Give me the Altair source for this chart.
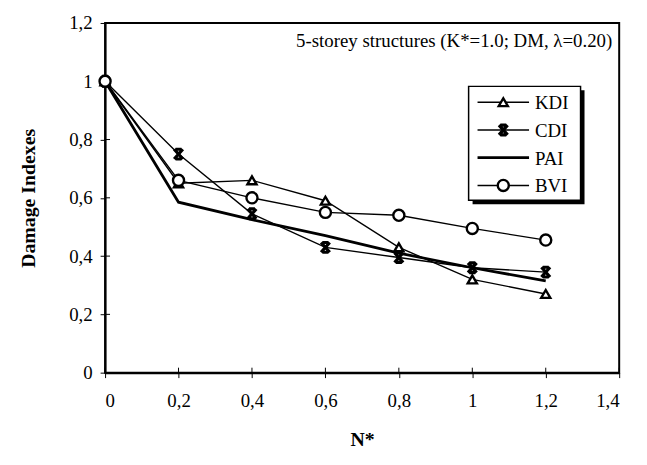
import altair as alt
import pandas as pd

n_star = [0, 0.2, 0.4, 0.6, 0.8, 1.0, 1.2]
kdi = [1.0, 0.65, 0.66, 0.59, 0.43, 0.32, 0.27]
cdi = [1.0, 0.75, 0.545, 0.43, 0.395, 0.36, 0.345]
pai = [1.0, 0.585, 0.525, 0.47, 0.41, 0.36, 0.315]
bvi = [1.0, 0.66, 0.60, 0.55, 0.54, 0.495, 0.455]

series_names = ["KDI", "CDI", "PAI", "BVI"]
series_values = [kdi, cdi, pai, bvi]

x_ticks = [0, 0.2, 0.4, 0.6, 0.8, 1.0, 1.2, 1.4]
y_ticks = [0, 0.2, 0.4, 0.6, 0.8, 1.0, 1.2]
title_text = "5-storey structures (K*=1.0; DM, λ=0.20)"

rows = []
for name, vals in zip(series_names, series_values):
    for xv, yv in zip(n_star, vals):
        rows.append({"series": name, "N": xv, "D": yv})
df = pd.DataFrame(rows)

FONT = "Liberation Serif"
W, H = 519, 353

cross_path = "M-0.8,-0.9L0.8,0.9M0.8,-0.9L-0.8,0.9M-0.55,-0.9L0.55,-0.9M-0.55,0.9L0.55,0.9"
lab_expr = "replace(format(datum.value, '.1~f'), '.', ',')"

x_enc = alt.X("N:Q", scale=alt.Scale(domain=[0, 1.4], nice=False),
              axis=alt.Axis(values=x_ticks, title="N*", labelExpr=lab_expr))
y_enc = alt.Y("D:Q", scale=alt.Scale(domain=[0, 1.2], nice=False),
              axis=alt.Axis(values=y_ticks, title="Damage Indexes", labelExpr=lab_expr))

layers = []
for name in series_names:
    sub = df[df.series == name]
    sw = 2.8 if name == "PAI" else 1.4
    layers.append(alt.Chart(sub).mark_line(color="black", strokeWidth=sw).encode(x=x_enc, y=y_enc))

# inward tick marks (ticks cross the axis lines)
layers.append(alt.Chart(pd.DataFrame({"N": x_ticks})).mark_rule(color="black", strokeWidth=1).encode(
    x="N:Q", y=alt.value(H - 5), y2=alt.value(H)))
layers.append(alt.Chart(pd.DataFrame({"D": y_ticks})).mark_rule(color="black", strokeWidth=1).encode(
    y="D:Q", x=alt.value(0), x2=alt.value(5)))

layers.append(alt.Chart(df[df.series == "KDI"]).mark_point(
    shape="triangle-up", filled=True, fill="white", stroke="black", strokeWidth=2.4, size=85, opacity=1
).encode(x="N:Q", y="D:Q"))
layers.append(alt.Chart(df[df.series == "CDI"]).mark_point(
    shape=cross_path, filled=False, stroke="black", strokeWidth=3.2, size=120, opacity=1
).encode(x="N:Q", y="D:Q"))
layers.append(alt.Chart(df[df.series == "BVI"]).mark_point(
    shape="circle", filled=True, fill="white", stroke="black", strokeWidth=2.4, size=125, opacity=1
).encode(x="N:Q", y="D:Q"))

# title inside plot
layers.append(alt.Chart(pd.DataFrame({"t": [title_text]})).mark_text(
    font=FONT, fontSize=19, align="right", baseline="middle", color="black"
).encode(x=alt.value(512), y=alt.value(18), text="t:N"))

# legend box
box = dict(x0=367, x1=480, y0=64, y1=179)
layers.append(alt.Chart(pd.DataFrame({"a": [1]})).mark_rect(color="black").encode(
    x=alt.value(box["x0"] + 4), x2=alt.value(box["x1"] + 4),
    y=alt.value(box["y0"] + 4), y2=alt.value(box["y1"] + 4)))
layers.append(alt.Chart(pd.DataFrame({"a": [1]})).mark_rect(
    fill="white", stroke="black", strokeWidth=1.5).encode(
    x=alt.value(box["x0"]), x2=alt.value(box["x1"]),
    y=alt.value(box["y0"]), y2=alt.value(box["y1"])))

row_y = [80, 108, 136, 164]
for name, ry in zip(series_names, row_y):
    sw = 2.8 if name == "PAI" else 1.4
    layers.append(alt.Chart(pd.DataFrame({"a": [1]})).mark_rule(color="black", strokeWidth=sw).encode(
        x=alt.value(376), x2=alt.value(428), y=alt.value(ry)))
    if name == "KDI":
        layers.append(alt.Chart(pd.DataFrame({"a": [1]})).mark_point(
            shape="triangle-up", filled=True, fill="white", stroke="black", strokeWidth=2.4, size=85, opacity=1
        ).encode(x=alt.value(402), y=alt.value(ry)))
    elif name == "CDI":
        layers.append(alt.Chart(pd.DataFrame({"a": [1]})).mark_point(
            shape=cross_path, filled=False, stroke="black", strokeWidth=3.2, size=120, opacity=1
        ).encode(x=alt.value(402), y=alt.value(ry)))
    elif name == "BVI":
        layers.append(alt.Chart(pd.DataFrame({"a": [1]})).mark_point(
            shape="circle", filled=True, fill="white", stroke="black", strokeWidth=2.4, size=125, opacity=1
        ).encode(x=alt.value(402), y=alt.value(ry)))
    layers.append(alt.Chart(pd.DataFrame({"t": [name]})).mark_text(
        font=FONT, fontSize=19, align="left", baseline="middle", color="black"
    ).encode(x=alt.value(434), y=alt.value(ry + 1), text="t:N"))

chart = alt.layer(*layers).properties(
    width=W, height=H,
    autosize=alt.AutoSizeParams(type="none"),
    padding={"left": 98, "top": 13, "right": 20, "bottom": 80},
).configure_view(
    stroke="black", strokeWidth=2
).configure_axis(
    grid=False, domainColor="black", domainWidth=2, tickColor="black", tickWidth=1, tickSize=5,
    labelFont=FONT, labelFontSize=19, labelColor="black",
    titleFont=FONT, titleFontSize=20, titleFontWeight="bold", titleColor="black",
).configure_axisX(
    labelPadding=14, titlePadding=20
).configure_axisY(
    labelPadding=8, titlePadding=30
)

chart.save("out.html", embed_options={"renderer": "svg", "actions": False})
